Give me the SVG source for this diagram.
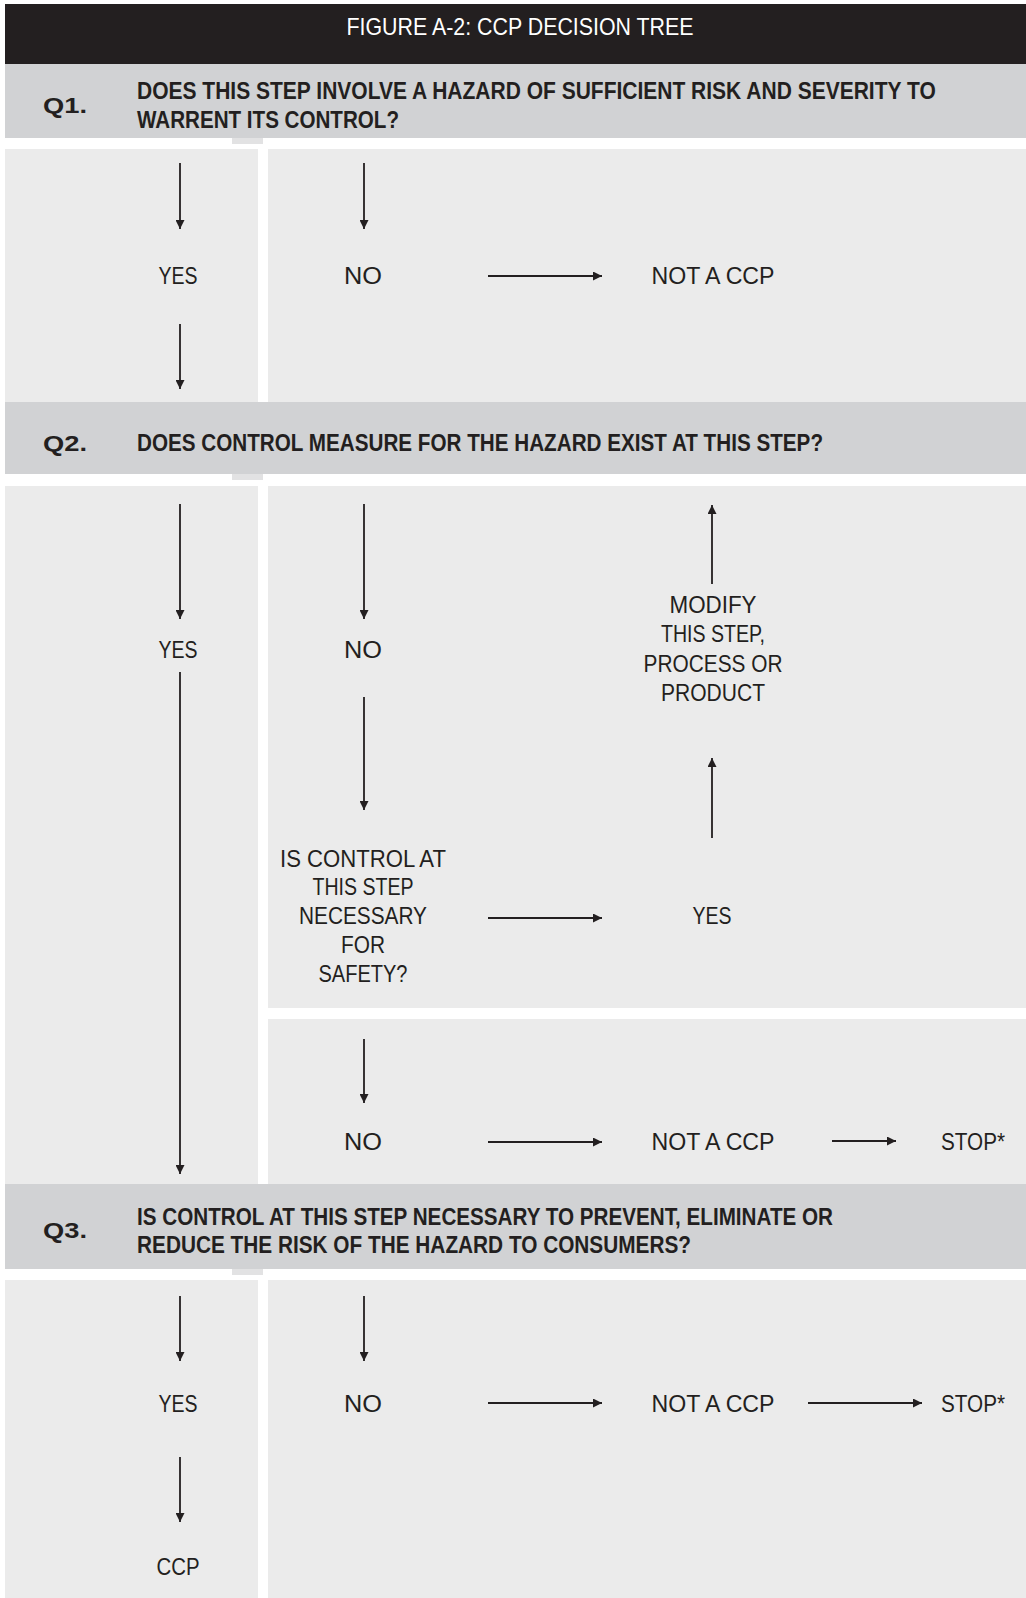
<svg xmlns="http://www.w3.org/2000/svg" width="1026" height="1598" viewBox="0 0 1026 1598">
<style>
.band{fill:#d1d2d4}
.panel{fill:#ebebeb}
.t{font-family:"Liberation Sans",Arial,sans-serif;font-size:24px;fill:#231f20;text-anchor:middle}
.q{font-family:"Liberation Sans",Arial,sans-serif;font-size:24px;font-weight:bold;fill:#231f20}
.qn{font-family:"Liberation Sans",Arial,sans-serif;font-size:22px;font-weight:bold;fill:#231f20}
.title{font-family:"Liberation Sans",Arial,sans-serif;font-size:24px;fill:#ffffff;text-anchor:middle}
.c{stroke:#231f20;stroke-width:1.8;fill:none;marker-end:url(#ah)}
</style>
<defs>
<marker id="ah" markerUnits="userSpaceOnUse" markerWidth="10" markerHeight="9" refX="9" refY="4.5" orient="auto">
<path d="M0,0 L9,4.5 L0,9 Z" fill="#231f20"/>
</marker>
</defs>
<rect x="0" y="0" width="1026" height="1598" fill="#ffffff"/>
<g id="background">
<rect x="5" y="4" width="1021" height="60" fill="#231f20"/>
<rect class="band" x="5" y="64" width="1021" height="74"/>
<rect x="232" y="138" width="31" height="6" fill="#e2e2e3"/>
<rect class="panel" x="5" y="149" width="253" height="253"/>
<rect class="panel" x="268" y="149" width="758" height="253"/>
<rect class="band" x="5" y="402" width="1021" height="72"/>
<rect x="232" y="474" width="31" height="6" fill="#e2e2e3"/>
<rect class="panel" x="5" y="486" width="253" height="698"/>
<rect class="panel" x="268" y="486" width="758" height="522"/>
<rect class="panel" x="268" y="1019" width="758" height="165"/>
<rect class="band" x="5" y="1184" width="1021" height="85"/>
<rect x="232" y="1269" width="31" height="6" fill="#e2e2e3"/>
<rect class="panel" x="5" y="1280" width="253" height="318"/>
<rect class="panel" x="268" y="1280" width="758" height="318"/>
</g>
<g id="title"><text class="title" x="520" y="35" textLength="347" lengthAdjust="spacingAndGlyphs">FIGURE A-2: CCP DECISION TREE</text></g>
<g id="q1">
<text class="qn" x="43" y="113" textLength="44" lengthAdjust="spacingAndGlyphs">Q1.</text>
<g transform="translate(137,99) scale(0.75,1)"><text class="q" x="0" y="0" textLength="1065" lengthAdjust="spacingAndGlyphs">DOES THIS STEP INVOLVE A HAZARD OF SUFFICIENT RISK AND SEVERITY TO</text></g>
<text class="q" x="137" y="128" textLength="262" lengthAdjust="spacingAndGlyphs">WARRENT ITS CONTROL?</text>
</g>
<g id="q1-yes"><text class="t" x="178" y="284" textLength="39" lengthAdjust="spacingAndGlyphs">YES</text></g>
<g id="q1-no"><text class="t" x="363" y="284" textLength="38" lengthAdjust="spacingAndGlyphs">NO</text></g>
<g id="q1-notccp"><text class="t" x="713" y="284" textLength="123" lengthAdjust="spacingAndGlyphs">NOT A CCP</text></g>
<g id="q2">
<text class="qn" x="43" y="451" textLength="44" lengthAdjust="spacingAndGlyphs">Q2.</text>
<text class="q" x="137" y="451" textLength="686" lengthAdjust="spacingAndGlyphs">DOES CONTROL MEASURE FOR THE HAZARD EXIST AT THIS STEP?</text>
</g>
<g id="q2-yes"><text class="t" x="178" y="658" textLength="39" lengthAdjust="spacingAndGlyphs">YES</text></g>
<g id="q2-no"><text class="t" x="363" y="658" textLength="38" lengthAdjust="spacingAndGlyphs">NO</text></g>
<g id="modify">
<text class="t" x="713" y="613" textLength="87" lengthAdjust="spacingAndGlyphs">MODIFY</text>
<text class="t" x="713" y="642" textLength="104" lengthAdjust="spacingAndGlyphs">THIS STEP,</text>
<text class="t" x="713" y="672" textLength="139" lengthAdjust="spacingAndGlyphs">PROCESS OR</text>
<text class="t" x="713" y="701" textLength="104" lengthAdjust="spacingAndGlyphs">PRODUCT</text>
</g>
<g id="necessary">
<text class="t" x="363" y="867" textLength="166" lengthAdjust="spacingAndGlyphs">IS CONTROL AT</text>
<text class="t" x="363" y="895" textLength="101" lengthAdjust="spacingAndGlyphs">THIS STEP</text>
<text class="t" x="363" y="924" textLength="128" lengthAdjust="spacingAndGlyphs">NECESSARY</text>
<text class="t" x="363" y="953" textLength="44" lengthAdjust="spacingAndGlyphs">FOR</text>
<text class="t" x="363" y="982" textLength="89" lengthAdjust="spacingAndGlyphs">SAFETY?</text>
</g>
<g id="nec-yes"><text class="t" x="712" y="924" textLength="39" lengthAdjust="spacingAndGlyphs">YES</text></g>
<g id="nec-no"><text class="t" x="363" y="1150" textLength="38" lengthAdjust="spacingAndGlyphs">NO</text></g>
<g id="nec-notccp"><text class="t" x="713" y="1150" textLength="123" lengthAdjust="spacingAndGlyphs">NOT A CCP</text></g>
<g id="nec-stop"><text class="t" x="973" y="1150" textLength="64" lengthAdjust="spacingAndGlyphs">STOP*</text></g>
<g id="q3">
<text class="qn" x="43" y="1238" textLength="44" lengthAdjust="spacingAndGlyphs">Q3.</text>
<text class="q" x="137" y="1225" textLength="696" lengthAdjust="spacingAndGlyphs">IS CONTROL AT THIS STEP NECESSARY TO PREVENT, ELIMINATE OR</text>
<text class="q" x="137" y="1253" textLength="554" lengthAdjust="spacingAndGlyphs">REDUCE THE RISK OF THE HAZARD TO CONSUMERS?</text>
</g>
<g id="q3-yes"><text class="t" x="178" y="1412" textLength="39" lengthAdjust="spacingAndGlyphs">YES</text></g>
<g id="q3-no"><text class="t" x="363" y="1412" textLength="38" lengthAdjust="spacingAndGlyphs">NO</text></g>
<g id="q3-notccp"><text class="t" x="713" y="1412" textLength="123" lengthAdjust="spacingAndGlyphs">NOT A CCP</text></g>
<g id="q3-stop"><text class="t" x="973" y="1412" textLength="64" lengthAdjust="spacingAndGlyphs">STOP*</text></g>
<g id="ccp"><text class="t" x="178" y="1575" textLength="43" lengthAdjust="spacingAndGlyphs">CCP</text></g>
<g id="connectors">
<line class="c" x1="180" y1="163" x2="180" y2="229"/>
<line class="c" x1="364" y1="163" x2="364" y2="229"/>
<line class="c" x1="488" y1="276" x2="602" y2="276"/>
<line class="c" x1="180" y1="324" x2="180" y2="389"/>
<line class="c" x1="180" y1="504" x2="180" y2="619"/>
<line class="c" x1="364" y1="504" x2="364" y2="619"/>
<line class="c" x1="180" y1="672" x2="180" y2="1174"/>
<line class="c" x1="364" y1="697" x2="364" y2="810"/>
<line class="c" x1="712" y1="584" x2="712" y2="505"/>
<line class="c" x1="712" y1="838" x2="712" y2="758"/>
<line class="c" x1="488" y1="918" x2="602" y2="918"/>
<line class="c" x1="364" y1="1039" x2="364" y2="1103"/>
<line class="c" x1="488" y1="1142" x2="602" y2="1142"/>
<line class="c" x1="832" y1="1141" x2="896" y2="1141"/>
<line class="c" x1="180" y1="1296" x2="180" y2="1361"/>
<line class="c" x1="364" y1="1296" x2="364" y2="1361"/>
<line class="c" x1="488" y1="1403" x2="602" y2="1403"/>
<line class="c" x1="808" y1="1403" x2="922" y2="1403"/>
<line class="c" x1="180" y1="1457" x2="180" y2="1522"/>
</g>
</svg>
